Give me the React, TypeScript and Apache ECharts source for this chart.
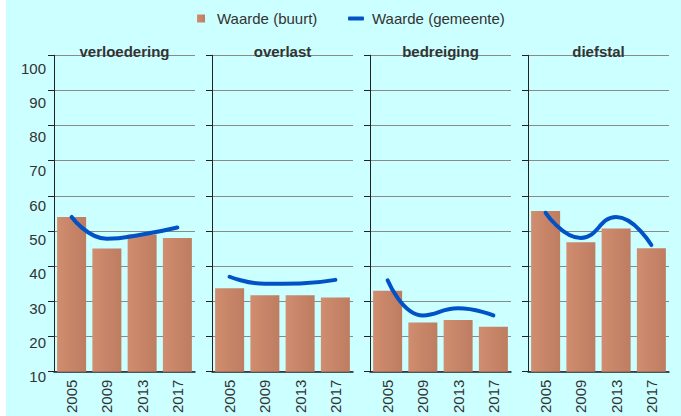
import React, { useEffect, useRef } from "react";
import * as echarts from "echarts";

const categories = ["2005", "2009", "2013", "2017"];
const panelTitles = ["verloedering", "overlast", "bedreiging", "diefstal"];
const buurtVerloedering = [54, 45, 49, 48];
const buurtOverlast = [33.7, 31.7, 31.7, 31.1];
const buurtBedreiging = [33, 24, 24.7, 22.8];
const buurtDiefstal = [55.7, 46.8, 50.7, 45.1];
const gemeenteVerloedering = [54, 47.8, 49, 51];
const gemeenteOverlast = [37, 35, 35.1, 36.1];
const gemeenteBedreiging = [36, 26, 28, 26];
const gemeenteDiefstal = [55.2, 48, 54, 46];
const yTicks = [10, 100, 10]; // min, max, interval

const buurtData = [buurtVerloedering, buurtOverlast, buurtBedreiging, buurtDiefstal];
const gemeenteData = [gemeenteVerloedering, gemeenteOverlast, gemeenteBedreiging, gemeenteDiefstal];

const FONT = '"Liberation Sans", Arial, Helvetica, sans-serif';
const panelLeft = [54, 212, 370, 528];
const panelWidth = 141;
const gridTop = 55.3;
const gridHeight = 322.4;

export default function App() {
  const ref = useRef<HTMLDivElement>(null);
  useEffect(() => {
    if (!ref.current) return;
    const chart = echarts.init(ref.current, undefined, { renderer: "svg" });
    const grids: any[] = panelLeft.map((l) => ({ left: l, top: gridTop, width: panelWidth, height: gridHeight }));
    grids.push({ left: 54, top: 68, width: panelWidth, height: 308.7 });
    const xAxes: any[] = panelLeft.map((_, i) => ({
      gridIndex: i,
      type: "category",
      data: categories,
      axisLine: { lineStyle: { color: "#222", width: 1.5 } },
      axisTick: { alignWithLabel: true, length: 5, lineStyle: { color: "#222" } },
      axisLabel: { rotate: 90, margin: 8, fontSize: 15, color: "#333", fontFamily: FONT, interval: 0 },
    }));
    xAxes.push({ gridIndex: 4, type: "value", show: false, min: 0, max: 1 });
    const yAxes: any[] = panelLeft.map((_, i) => ({
      gridIndex: i,
      type: "value",
      min: yTicks[0],
      max: yTicks[1],
      interval: yTicks[2],
      axisLine: { show: true, lineStyle: { color: "#222", width: 1 } },
      axisTick: { show: true, inside: false, length: 6, lineStyle: { color: "#222" } },
      axisLabel: { show: false },
      splitLine: { show: true, lineStyle: { color: "#8a8a8a", width: 1 } },
    }));
    yAxes.push({
      gridIndex: 4,
      type: "value",
      min: yTicks[0],
      max: yTicks[1],
      interval: yTicks[2],
      axisLine: { show: false },
      axisTick: { show: false },
      splitLine: { show: false },
      axisLabel: { margin: 8, fontSize: 15, color: "#333", fontFamily: FONT },
    });
    const series: any[] = [];
    panelLeft.forEach((_, i) => {
      series.push({
        type: "bar",
        name: "Waarde (buurt)",
        xAxisIndex: i,
        yAxisIndex: i,
        data: buurtData[i],
        barWidth: 29,
        itemStyle: {
          color: {
            type: "linear",
            x: 0,
            y: 0,
            x2: 1,
            y2: 0,
            colorStops: [
              { offset: 0, color: "#d08d6f" },
              { offset: 1, color: "#be7c61" },
            ],
          },
        },
      });
      series.push({
        type: "line",
        name: "Waarde (gemeente)",
        xAxisIndex: i,
        yAxisIndex: i,
        data: gemeenteData[i],
        smooth: true,
        symbol: "none",
        showSymbol: false,
        lineStyle: { color: "#0052c6", width: 4, cap: "round" },
        itemStyle: { color: "#0052c6" },
        z: 3,
      });
    });
    const graphic = panelTitles.map((t, i) => ({
      type: "text",
      x: panelLeft[i] + panelWidth / 2,
      y: 51,
      z: 10,
      style: {
        text: t,
        fontSize: 15,
        fontWeight: "bold",
        fontFamily: FONT,
        fill: "#333",
        textAlign: "center",
        textVerticalAlign: "middle",
        align: "center",
        verticalAlign: "middle",
      },
    }));
    chart.setOption({
      animation: false,
      backgroundColor: "transparent",
      grid: grids,
      xAxis: xAxes,
      yAxis: yAxes,
      series,
      graphic,
      legend: [
        {
          data: [{ name: "Waarde (buurt)", icon: "rect" }],
          left: 197,
          top: 11,
          padding: 0,
          itemWidth: 8,
          itemHeight: 8,
          textStyle: { fontSize: 15, color: "#333", fontFamily: FONT, padding: [0, 0, 0, 7] },
        },
        {
          data: [{ name: "Waarde (gemeente)", icon: "roundRect" }],
          left: 348,
          top: 11,
          padding: 0,
          itemWidth: 16,
          itemHeight: 4,
          textStyle: { fontSize: 15, color: "#333", fontFamily: FONT, padding: [0, 0, 0, 3] },
        },
      ],
    });
    return () => chart.dispose();
  }, []);
  return (
    <div
      style={{
        position: "fixed",
        left: 0,
        top: 0,
        width: 681,
        height: 416,
        background: "linear-gradient(to right, #ffffff 6px, #ccffff 6px)",
      }}
    >
      <div ref={ref} style={{ width: 681, height: 416 }} />
    </div>
  );
}
